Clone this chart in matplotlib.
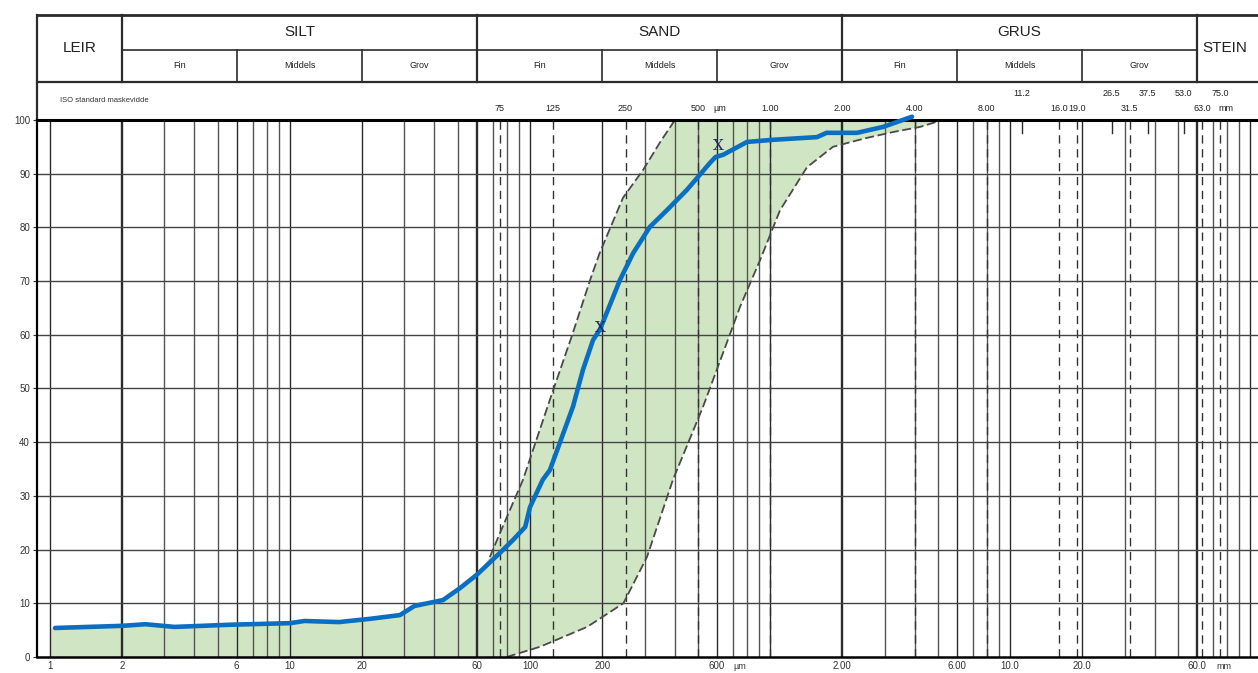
import numpy as np
import matplotlib.pyplot as plt

# kornfordeling (diameter i µm, prosent gjennomgang)
kurve_d = [1.05, 2, 2.5, 3.3, 5.6, 10, 11.5, 16, 21.5, 28.7, 33, 43.4, 51, 60, 75, 85,
           95.5, 100, 113, 121, 151, 166, 183, 195.7, 211, 237, 269, 316, 372, 451, 562,
           593, 637, 802, 1030, 1570, 1720, 2304, 2958, 3905]
kurve_p = [5.4, 5.8, 6.1, 5.6, 6.0, 6.3, 6.7, 6.5, 7.1, 7.8, 9.5, 10.6, 12.8, 15.3, 19.4, 21.8,
           24.2, 27.9, 33.0, 34.8, 46.6, 53.4, 59.0, 61.0, 64.6, 70.2, 75.2, 80.1, 83.2, 87.0, 92.0,
           93.1, 93.5, 95.9, 96.3, 96.8, 97.6, 97.6, 98.7, 100.6]

# grenser for det grønne området
ovre_d = [1, 2, 5, 10, 16, 21.5, 28.7, 33, 43, 51, 60, 68, 75, 93.5, 121, 150, 178, 195, 244,
          296, 350, 402]
ovre_p = [5.3, 5.7, 5.9, 6.2, 6.4, 7.0, 7.7, 9.3, 10.5, 12.6, 15.2, 18.6, 23.1, 33.0, 47.9,
          60.0, 70.2, 75.2, 85.5, 90.7, 96.0, 100.0]
nedre_d = [1, 80, 110, 173, 245, 307, 394, 526, 637, 750, 909, 1101, 1426, 1830, 2500, 3300,
           4217, 5250]
nedre_p = [0, 0, 1.9, 5.6, 10.0, 18.6, 33.0, 46.6, 56.6, 65.2, 73.9, 83.2, 91.2, 95.0, 96.6,
           97.8, 98.7, 100.0]

merke_d = [195.7, 607]
merke_p = [61.3, 95.2]

# klasseinndeling
fraksjoner = ['LEIR', 'SILT', 'SAND', 'GRUS', 'STEIN']
fraksjon_grenser = [2, 60, 2000, 60000]
underklasser = ['Fin', 'Middels', 'Grov']
under_grenser = [[2, 6, 20, 60], [60, 200, 600, 2000], [2000, 6000, 20000, 60000]]

x_ticks = [1, 2, 6, 10, 20, 60, 100, 200, 600, 2000, 6000, 10000, 20000, 60000]
x_labels = ['1', '2', '6', '10', '20', '60', '100', '200', '600', '2.00', '6.00', '10.0',
            '20.0', '60.0']

sikt_nedre = [75, 125, 250, 500, 1000, 2000, 4000, 8000, 16000, 19000, 31500, 63000]
sikt_nedre_tekst = ['75', '125', '250', '500', '1.00', '2.00', '4.00', '8.00', '16.0', '19.0',
                    '31.5', '63.0']
sikt_ovre = [11200, 26500, 37500, 53000, 75000]
sikt_ovre_tekst = ['11.2', '26.5', '37.5', '53.0', '75.0']
sikt_stiplet = [75, 125, 250, 500, 1000, 4000, 8000, 16000, 19000, 31500, 63000, 75000]
sikt_kort = [11200, 26500, 37500, 53000]

plt.rcParams['font.family'] = ['Liberation Sans', 'DejaVu Sans']
linje = '#2b2b2b'

fig = plt.figure(figsize=(12.58, 6.73), dpi=100)
ax = fig.add_axes([0.0294, 0.0238, 0.9706, 0.798])
ax.set_xscale('log')
ax.set_xlim(0.883, 107900)
ax.set_ylim(0, 100)

# grønt område
poly_x = list(ovre_d) + list(nedre_d[::-1])
poly_y = list(ovre_p) + list(nedre_p[::-1])
ax.fill(poly_x, poly_y, color='#cfe5c3', lw=0, zorder=0)

# logaritmisk rutenett
for n in range(0, 6):
    for k in range(1, 10):
        v = k * 10 ** n
        if v > 107900:
            continue
        tykk = v in fraksjon_grenser
        ax.axvline(v, color=linje if k in (1, 2, 6) else '#555555',
                   lw=1.7 if tykk else 1.0, zorder=1)
for v in sikt_stiplet:
    ax.axvline(v, color='#333333', lw=1.0, ls=(0, (6, 4)), zorder=1)
for v in sikt_kort:
    ax.plot([v, v], [100, 97.5], color=linje, lw=1.0, zorder=1)
for y in range(10, 100, 10):
    ax.axhline(y, color='#444444', lw=1.0, zorder=1)

# grensekurver
i0 = 11
ax.plot(ovre_d[i0:], ovre_p[i0:], color='#4a4a4a', lw=1.3, ls=(0, (5, 2)), zorder=2)
ax.plot(nedre_d[1:], nedre_p[1:], color='#4a4a4a', lw=1.3, ls=(0, (5, 2)), zorder=2)

# blå kurve
ax.plot(kurve_d, kurve_p, color='#0a6fc2', lw=3.3, solid_capstyle='round', zorder=3,
        clip_on=False)
for d, p in zip(merke_d, merke_p):
    ax.text(d, p, 'X', family='DejaVu Serif', fontsize=11, color='#1b2a5e',
            ha='center', va='center', zorder=4)

# akser
ax.spines['right'].set_visible(False)
ax.spines['top'].set_linewidth(2.2)
ax.spines['bottom'].set_linewidth(1.8)
ax.spines['left'].set_linewidth(1.6)
ax.set_yticks(range(0, 101, 10))
ax.tick_params(axis='y', length=3, pad=2, labelsize=7, colors='#333333')
ax.set_xticks(x_ticks)
ax.set_xticklabels(x_labels)
ax.xaxis.set_minor_locator(plt.NullLocator())
ax.tick_params(axis='x', length=0, pad=3, labelsize=7, colors='#333333')
ax.annotate('µm', xy=(600, 0), xytext=(12, -6.5), textcoords='offset points',
            fontsize=6.5, color='#333333', ha='left', va='center', annotation_clip=False)
ax.annotate('mm', xy=(60000, 0), xytext=(14, -6.5), textcoords='offset points',
            fontsize=6.5, color='#333333', ha='left', va='center', annotation_clip=False)

# hode med klassenavn
tr = ax.get_xaxis_transform()
y_top, y_mid, y_bot = 1.196, 1.130, 1.071
xmin, xmax = ax.get_xlim()
ax.plot([xmin, xmax], [y_top, y_top], color=linje, lw=2.0, transform=tr, clip_on=False)
ax.plot([xmin, xmax], [y_bot, y_bot], color=linje, lw=1.6, transform=tr, clip_on=False)
ax.plot([2, 60000], [y_mid, y_mid], color=linje, lw=1.2, transform=tr, clip_on=False)
ax.plot([xmin, xmin], [1.0, y_top], color=linje, lw=1.6, transform=tr, clip_on=False)
for g in fraksjon_grenser:
    ax.plot([g, g], [y_bot, y_top], color=linje, lw=1.6, transform=tr, clip_on=False)
for grupp in under_grenser:
    for g in grupp[1:-1]:
        ax.plot([g, g], [y_bot, y_mid], color=linje, lw=1.2, transform=tr, clip_on=False)
    for a, b, navn in zip(grupp[:-1], grupp[1:], underklasser):
        ax.text(np.sqrt(a * b), (y_bot + y_mid) / 2, navn, transform=tr, fontsize=6.5,
                ha='center', va='center', color='#222222')

for i, navn in enumerate(fraksjoner[1:4]):
    a, b = fraksjon_grenser[i], fraksjon_grenser[i + 1]
    ax.text(np.sqrt(a * b), (y_top + y_mid) / 2, navn, transform=tr, fontsize=11,
            ha='center', va='center', color='#222222')
ax.text(np.sqrt(xmin * 2), (y_top + y_bot) / 2, fraksjoner[0], transform=tr, fontsize=11,
        ha='center', va='center', color='#222222')
ax.text(63000, (y_top + y_bot) / 2, fraksjoner[4], transform=tr, fontsize=11,
        ha='left', va='center', color='#222222')

# siktstørrelser
ax.text(1.1, 1.036, 'ISO standard maskevidde', transform=tr, fontsize=5.5,
        ha='left', va='center', color='#333333')
for v, t in zip(sikt_nedre, sikt_nedre_tekst):
    ax.text(v, 1.021, t, transform=tr, fontsize=6.5, ha='center', va='center',
            color='#222222')
for v, t in zip(sikt_ovre, sikt_ovre_tekst):
    ax.text(v, 1.05, t, transform=tr, fontsize=6.5, ha='center', va='center',
            color='#222222')
ax.annotate('µm', xy=(500, 1.021), xycoords=tr, xytext=(11, 0), textcoords='offset points',
            fontsize=6.5, ha='left', va='center', color='#222222')
ax.annotate('mm', xy=(63000, 1.021), xycoords=tr, xytext=(12, 0), textcoords='offset points',
            fontsize=6.5, ha='left', va='center', color='#222222')

fig.savefig('out.png', dpi=100)
